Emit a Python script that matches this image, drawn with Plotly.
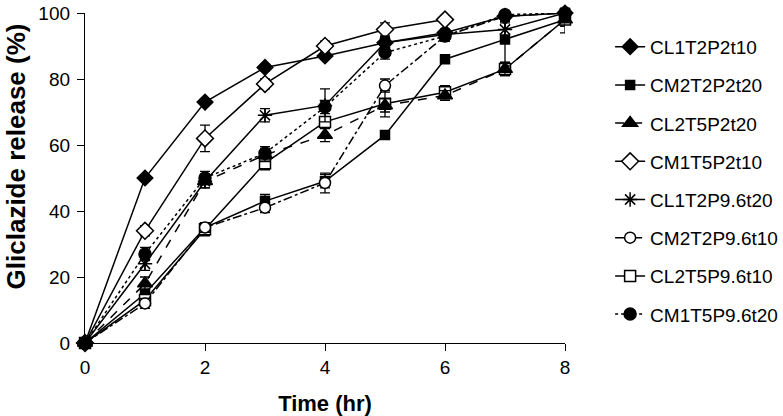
import plotly.graph_objects as go

time = [0, 1, 2, 3, 4, 5, 6, 7, 8]
time_cm1t5p2t10 = [0, 1, 2, 3, 4, 5, 6]

cl1t2p2t10 = [0, 50, 73, 83.5, 87, 91, 94, 99, 100]
cm2t2p2t20 = [0, 15, 35, 43, 49, 63, 86, 92, 98]
cl2t5p2t20 = [0, 18, 49, 57, 63, 72, 75, 83, 98]
cm1t5p2t10 = [0, 34, 62, 78.5, 90, 95, 98]
cl1t2p9_6t20 = [0, 24, 49, 69, 72, 91, 93.5, 95, 100]
cm2t2p9_6t10 = [0, 12, 35, 41, 48.5, 78, 93, 99, 100]
cl2t5p9_6t10 = [0, 13, 34.5, 54.5, 67, 72.5, 76, 83, 98]
cm1t5p9_6t20 = [0, 27, 50, 57.5, 71.5, 88, 93, 99.5, 100]

err_cl1t2p2t10 = [0, 1, 1, 1, 1, 1.5, 1, 1, 1]
err_cm2t2p2t20 = [0, 1, 1.5, 2, 2, 1, 1, 7, 4]
err_cl2t5p2t20 = [0, 2, 2, 2, 2, 2, 1.5, 2, 2]
err_cm1t5p2t10 = [0, 1.5, 4, 1.5, 1.5, 2, 3]
err_cl1t2p9_6t20 = [0, 2, 2, 2, 5, 2, 1.5, 2, 2]
err_cm2t2p9_6t10 = [0, 1.5, 1.5, 1.5, 3, 2, 1.5, 1.5, 1.5]
err_cl2t5p9_6t10 = [0, 2, 2, 2, 4, 4, 2, 2, 2]
err_cm1t5p9_6t20 = [0, 2, 2, 2, 2, 2, 1.5, 1.5, 1.5]

names = ["CL1T2P2t10", "CM2T2P2t20", "CL2T5P2t20", "CM1T5P2t10",
         "CL1T2P9.6t20", "CM2T2P9.6t10", "CL2T5P9.6t10", "CM1T5P9.6t20"]

# (legend rank, name, x, y, err, symbol, fill, size, dash)
series = [
    (0, names[0], time, cl1t2p2t10, err_cl1t2p2t10, "diamond", "black", 12, "solid"),
    (1, names[1], time, cm2t2p2t20, err_cm2t2p2t20, "square", "black", 9, "solid"),
    (6, names[6], time, cl2t5p9_6t10, err_cl2t5p9_6t10, "square", "white", 11, "solid"),
    (2, names[2], time, cl2t5p2t20, err_cl2t5p2t20, "triangle-up", "black", 13, "dash"),
    (3, names[3], time_cm1t5p2t10, cm1t5p2t10, err_cm1t5p2t10, "diamond", "white", 13, "solid"),
    (4, names[4], time, cl1t2p9_6t20, err_cl1t2p9_6t20, "asterisk-open", "black", 12, "solid"),
    (5, names[5], time, cm2t2p9_6t10, err_cm2t2p9_6t10, "circle", "white", 11, "dashdot"),
    (7, names[7], time, cm1t5p9_6t20, err_cm1t5p9_6t20, "circle", "black", 12, "dot"),
]

fig = go.Figure()
for rank, nm, xs, ys, es, sym, fill, size, dash in series:
    fig.add_trace(go.Scatter(
        x=xs, y=ys, name=nm, mode="lines+markers",
        legendgroup=f"g{rank}", legendrank=rank + 1,
        line=dict(color="black", width=1.5, dash=dash),
        marker=dict(symbol=sym, size=size, color=fill,
                    line=dict(color="black", width=1.5)),
        error_y=dict(type="data", array=es, visible=True, color="black",
                     thickness=1.3, width=5),
        cliponaxis=False,
    ))

fig.add_annotation(
    text="<b>Gliclazide release (%)</b>", textangle=-90,
    xref="paper", yref="paper", x=-0.144, y=0.565,
    xanchor="center", yanchor="middle", showarrow=False,
    font=dict(size=26, color="black"),
)

fig.update_layout(
    width=783, height=416,
    margin=dict(l=85, r=218, t=13, b=73, autoexpand=False),
    paper_bgcolor="white", plot_bgcolor="white",
    font=dict(family="Liberation Sans, Arial, sans-serif", size=19, color="black"),
    showlegend=True,
    legend=dict(x=1.094, xanchor="left", y=0.955, yanchor="top",
                font=dict(size=19), tracegroupgap=10.5,
                bgcolor="rgba(0,0,0,0)", itemwidth=30),
    xaxis=dict(range=[0, 8], tickvals=[0, 2, 4, 6, 8], showline=True,
               linecolor="black", linewidth=1.3, ticks="outside", ticklen=7,
               tickcolor="black", tickwidth=1.3, showgrid=False, zeroline=False,
               automargin=False, ticklabelstandoff=0,
               tickfont=dict(size=19),
               title=dict(text="<b>Time (hr)</b>", font=dict(size=22), standoff=22)),
    yaxis=dict(range=[0, 100], tickvals=[0, 20, 40, 60, 80, 100], showline=True,
               linecolor="black", linewidth=1.3, ticks="outside", ticklen=7,
               tickcolor="black", tickwidth=1.3, showgrid=False, zeroline=False,
               automargin=False, ticklabelstandoff=3,
               tickfont=dict(size=19)),
)

fig.write_html("out.html", config={"displayModeBar": False},
               post_script="document.body.style.margin='0px';")
